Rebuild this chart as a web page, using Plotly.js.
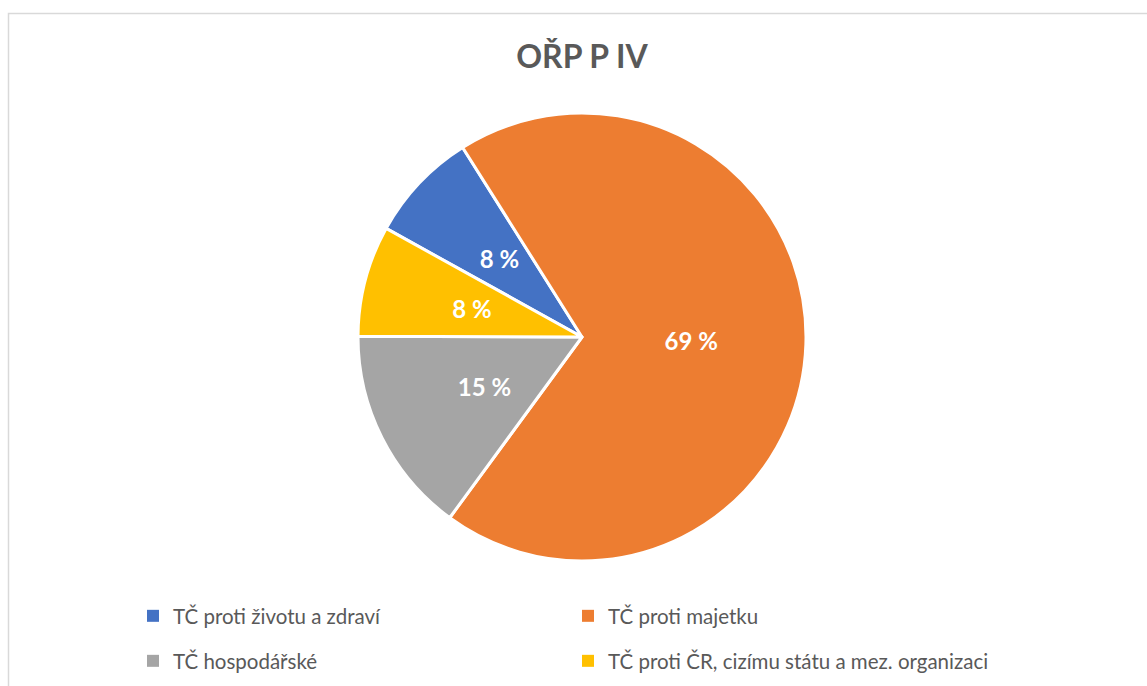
<!DOCTYPE html>
<html>
<head>
<meta charset="utf-8">
<script src="https://cdn.plot.ly/plotly-3.0.1.min.js"></script>
<style>html,body{margin:0;padding:0;background:#fff;}#chart{width:1147px;height:686px;}</style>
</head>
<body>
<div id="chart"></div>
<script>
const categories = ["TČ proti životu a zdraví", "TČ proti majetku", "TČ hospodářské", "TČ proti ČR, cizímu státu a mez. organizaci"];
const shares = [8, 69, 15, 8];
const colors = ["#4472C4", "#ED7D31", "#A5A5A5", "#FFC000"];
const chartTitle = "OŘP P IV";

const W = 1147, H = 686;
const cx = 582, cy = 337, r = 224;
const rLabel = 142;
const FONT = "Lato, 'Open Sans', sans-serif";

function dom(rad) {
  return {x: [(cx - rad) / W, (cx + rad) / W], y: [1 - (cy + rad) / H, 1 - (cy - rad) / H]};
}

// legend carriers (hidden beneath the main pie), one per legend row
function legendPie(idx, legendId) {
  return {
    type: "pie",
    labels: idx.map(i => categories[i]),
    values: idx.map(i => shares[i]),
    marker: {colors: idx.map(i => colors[i])},
    sort: false,
    textinfo: "none",
    hoverinfo: "skip",
    legend: legendId,
    showlegend: true,
    domain: dom(20)
  };
}

const mainPie = {
  type: "pie",
  labels: categories,
  values: shares,
  sort: false,
  direction: "clockwise",
  rotation: -61,
  marker: {colors: colors, line: {color: "#FFFFFF", width: 3}},
  textinfo: "none",
  showlegend: false,
  hoverinfo: "label+percent",
  domain: dom(r)
};

// transparent ring used only to place the percentage labels
const labelPie = {
  type: "pie",
  labels: categories,
  values: shares,
  sort: false,
  direction: "clockwise",
  rotation: -61,
  hole: 0.54,
  marker: {colors: categories.map(() => "rgba(0,0,0,0)"), line: {width: 0}},
  texttemplate: "%{value} %",
  textposition: "inside",
  insidetextorientation: "horizontal",
  insidetextfont: {family: FONT, size: 24, color: "#FFFFFF", weight: "bold"},
  showlegend: false,
  hoverinfo: "skip",
  domain: dom(rLabel)
};

const legendCommon = {
  orientation: "h",
  x: 133 / W, xanchor: "left",
  yanchor: "top",
  entrywidth: 390, entrywidthmode: "pixels",
  font: {family: FONT, size: 20.5, color: "#595959"},
  bgcolor: "rgba(0,0,0,0)"
};

const layout = {
  width: W, height: H,
  margin: {l: 0, r: 0, t: 0, b: 0},
  paper_bgcolor: "#FFFFFF",
  font: {family: FONT, color: "#595959"},
  title: {
    text: chartTitle,
    font: {family: FONT, size: 32, color: "#595959", weight: "bold"},
    x: 582 / W, xanchor: "center",
    y: 1 - 57 / H, yanchor: "middle"
  },
  showlegend: true,
  legend: Object.assign({}, legendCommon, {y: 1 - 596 / H}),
  legend2: Object.assign({}, legendCommon, {y: 1 - 641 / H}),
  shapes: [{
    type: "rect", xref: "paper", yref: "paper",
    x0: 8.5 / W, x1: 1.02, y0: -0.02, y1: 1 - 13.5 / H,
    line: {color: "#D9D9D9", width: 1.5}, fillcolor: "rgba(0,0,0,0)"
  }]
};

Plotly.newPlot("chart", [legendPie([0, 1], "legend"), legendPie([2, 3], "legend2"), mainPie, labelPie], layout, {displayModeBar: false, staticPlot: true});
</script>
</body>
</html>
